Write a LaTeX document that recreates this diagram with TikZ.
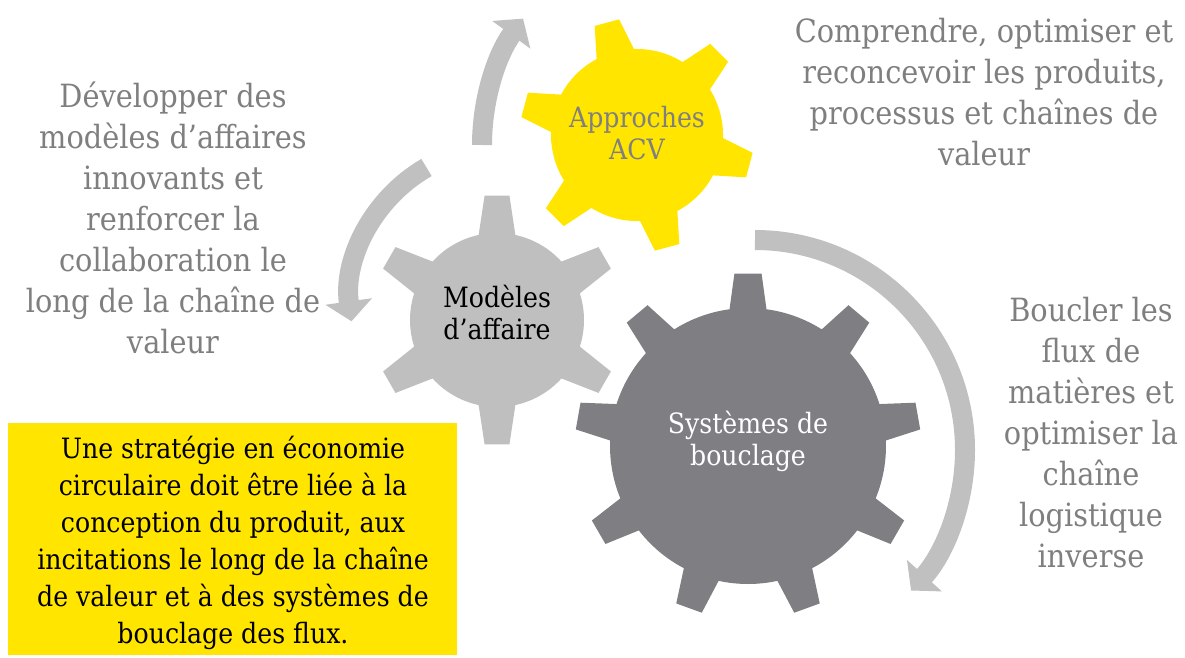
\documentclass[tikz,border=0pt]{standalone}
\usepackage{fontspec}
\setmainfont{DejaVu Serif}[FakeStretch=0.9]
\usetikzlibrary{arrows.meta}
\definecolor{acvyellow}{HTML}{FFE500}
\definecolor{lightgear}{HTML}{BFBFBF}
\definecolor{darkgear}{HTML}{7F7E83}
\definecolor{arrowgray}{HTML}{C0C0C0}
\definecolor{txtgray}{HTML}{7F7F7F}
\tikzset{
  gearlabel/.style={align=center, inner sep=0pt, anchor=base, font=\fontsize{28}{32}\selectfont},
  sidetext/.style={align=center, inner sep=0pt, anchor=base, text=txtgray, font=\fontsize{32}{41}\selectfont},
  flow/.style={draw=arrowgray, line width=20pt, -{Triangle[width=46pt,length=20pt]}}
}
% #1 colour, #2 centre, #3 body radius, #4 tip radius, #5 teeth, #6 first tooth angle, #7 half angle at body, #8 half angle at tip
\newcommand{\drawgear}[8]{%
  \fill[#1, shift={(#2)}] ({#6-#7}:#3)
    \foreach \k in {1,...,#5}{
      -- ({#6+(\k-1)*360/#5-#8}:#4) -- ({#6+(\k-1)*360/#5+#8}:#4) -- ({#6+(\k-1)*360/#5+#7}:#3)
      arc[start angle={#6+(\k-1)*360/#5+#7}, end angle={#6+\k*360/#5-#7}, radius=#3]
    } -- cycle;}
\begin{document}
\begin{tikzpicture}[x=1pt, y=1pt]
\useasboundingbox (0,0) rectangle (1185,-657);
\coordinate (acvc) at (637,-135);
\coordinate (modc) at (497,-320);
\coordinate (boucc) at (748,-446);

\draw[flow, shift={(697,-145)}] (180:215) arc[start angle=180, end angle=144, radius=215];
\draw[flow, shift={(503,-300)}] (120:153) arc[start angle=120, end angle=188, radius=153];
\draw[flow, shift={(755,-450)}] (90:210) arc[start angle=90, end angle=-42, radius=210];

\drawgear{acvyellow}{acvc}{86}{117}{6}{45}{13}{6.2}
\drawgear{lightgear}{modc}{87}{125}{6}{30}{12.2}{5.7}
\drawgear{darkgear}{boucc}{138}{173}{9}{10}{7.7}{4.5}

\node[gearlabel, text=txtgray] (acv) at (637,-159) {Approches\\ACV};
\node[gearlabel, text=black] (modeles) at (497,-339) {Modèles\\d’affaire};
\node[gearlabel, text=white] (bouclage) at (748,-465) {Systèmes de\\bouclage};

\node[sidetext] (comprendre) at (984,-165) {Comprendre, optimiser et\\reconcevoir les produits,\\processus et chaînes de\\valeur};
\node[sidetext] (developper) at (173,-353) {Développer des\\modèles d’affaires\\innovants et\\renforcer la\\collaboration le\\long de la chaîne de\\valeur};
\node[sidetext] (boucler) at (1091,-567) {Boucler les\\flux de\\matières et\\optimiser la\\chaîne\\logistique\\inverse};

\fill[acvyellow] (8,-423) rectangle (457,-655);
\node[align=center, inner sep=0pt, anchor=base, font=\fontsize{28}{37}\selectfont] (strategie) at (233,-643) {Une stratégie en économie\\circulaire doit être liée à la\\conception du produit, aux\\incitations le long de la chaîne\\de valeur et à des systèmes de\\bouclage des flux.};
\end{tikzpicture}
\end{document}
